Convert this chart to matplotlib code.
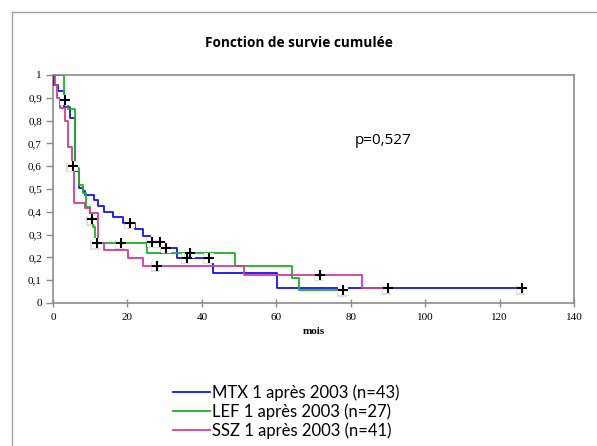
import numpy as np
import matplotlib.pyplot as plt
from matplotlib import patheffects as pe
from matplotlib.lines import Line2D

# Kaplan-Meier step data (months, cumulative survival after the step)
mtx_t = [0, 0.3, 1.4, 3.0, 4.6, 5.9, 7.1, 8.0, 8.6, 11.1, 12.2, 13.7, 16.2, 18.7,
         22.0, 24.3, 26.1, 29.8, 33.2, 43.0, 60.1, 126.0]
mtx_s = [1, 0.956, 0.93, 0.86, 0.81, 0.581, 0.503, 0.49, 0.474, 0.452, 0.427, 0.40,
         0.376, 0.35, 0.323, 0.295, 0.268, 0.242, 0.198, 0.13, 0.064, 0.064]
mtx_cens = [20.7, 26.5, 28.8, 30.3, 36.0, 42.0, 90.0, 126.0]

lef_t = [0, 3.0, 4.1, 5.9, 7.1, 8.0, 9.0, 9.9, 10.8, 11.4, 25.2, 49.0, 64.2, 66.0, 78.0]
lef_s = [1, 0.889, 0.852, 0.593, 0.519, 0.481, 0.42, 0.367, 0.335, 0.262, 0.22,
         0.164, 0.108, 0.055, 0.055]
lef_cens = [3.3, 10.6, 11.7, 18.3, 36.8, 78.0]

ssz_t = [0, 0.45, 1.0, 1.9, 3.2, 4.1, 5.0, 5.6, 8.6, 9.9, 12.0, 13.7, 20.2, 24.2,
         51.2, 83.0, 89.5]
ssz_s = [1, 0.956, 0.898, 0.855, 0.80, 0.686, 0.60, 0.437, 0.418, 0.393, 0.262,
         0.232, 0.196, 0.164, 0.123, 0.064, 0.064]
ssz_cens = [5.3, 27.9, 71.8]

labels = ['MTX 1 après 2003 (n=43)', 'LEF 1 après 2003 (n=27)', 'SSZ 1 après 2003 (n=41)']
colors = ['#1414f5', '#1cb41c', '#d23c9e']

fig = plt.figure(figsize=(5.97, 4.46), dpi=100)
# outer chart frame (top and left edges visible)
fig.add_artist(Line2D([12/597, 12/597], [0, 1-12/446], color='#a0a0a0', lw=1))
fig.add_artist(Line2D([12/597, 1], [1-12/446, 1-12/446], color='#a0a0a0', lw=1))

ax = fig.add_axes([53/597, 1-303/446, 521/597, 228/446])

series = [(mtx_t, mtx_s, mtx_cens), (lef_t, lef_s, lef_cens), (ssz_t, ssz_s, ssz_cens)]
handles = []
for (t, s, cens), col, lab in zip(series, colors, labels):
    h, = ax.step(t, s, where='post', color=col, lw=1.3, label=lab, zorder=3)
    handles.append(h)

for (t, s, cens) in series:
    t = np.array(t)
    s = np.array(s)
    idx = np.searchsorted(t, cens, side='right') - 1
    cy = s[idx]
    ax.plot(cens, cy, ls='none', marker='s', ms=7, mfc='white', mec='none', zorder=4,
            path_effects=[pe.SimplePatchShadow(offset=(-1, -1), alpha=0.18), pe.Normal()])
    ax.plot(cens, cy, ls='none', marker='+', ms=6.5, mew=1.5, color='black', zorder=5)

ax.set_xlim(0, 140)
ax.set_ylim(0, 1)
ax.set_xticks(np.arange(0, 141, 20))
yt = np.round(np.arange(0, 1.01, 0.1), 1)
ax.set_yticks(yt)
ax.set_yticklabels(['0' if v == 0 else '1' if v == 1 else str(v).replace('.', ',') for v in yt])
for sp in ax.spines.values():
    sp.set_color('#8c8c8c')
    sp.set_linewidth(1.2)
ax.tick_params(axis='y', direction='out', length=5, width=1, color='#8c8c8c', labelsize=8, pad=3)
ax.tick_params(axis='x', direction='inout', length=6, width=1, color='#8c8c8c', labelsize=8, pad=4)
for lbl in ax.get_xticklabels() + ax.get_yticklabels():
    lbl.set_fontfamily('Liberation Serif')

ax.set_xlabel('mois', fontfamily='Liberation Serif', fontweight='bold', fontsize=8, labelpad=4)
ax.text(0.58, 0.697, 'p=0,527', transform=ax.transAxes, fontsize=11, fontfamily='Open Sans')
fig.text(0.5, 1-43/446, 'Fonction de survie cumulée', ha='center', va='center',
         fontsize=9.8, fontweight='bold', fontfamily='Open Sans')

fig.legend(handles=handles, loc='upper left', bbox_to_anchor=(173/597, 1-384/446),
           frameon=False, borderpad=0, borderaxespad=0, handlelength=2.2,
           handletextpad=0.15, labelspacing=0.15, prop={'family': 'Lato', 'size': 12})

fig.savefig('out.png', dpi=100)
